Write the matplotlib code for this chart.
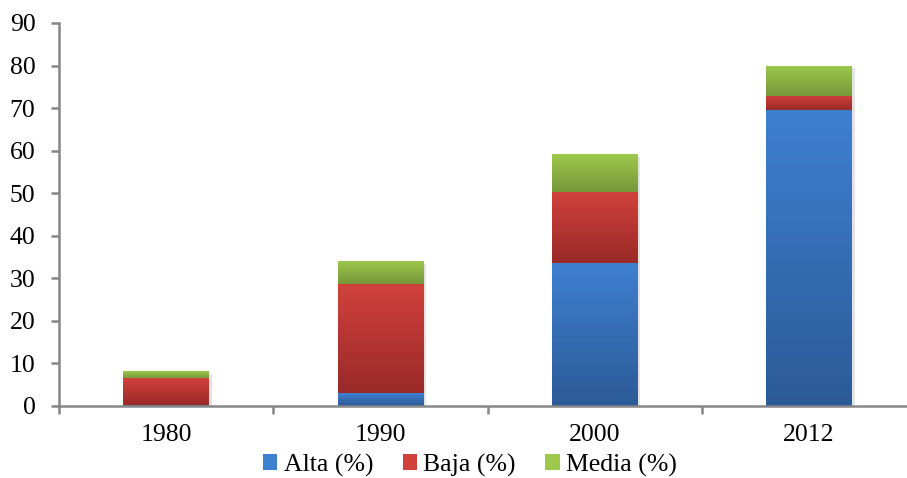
import numpy as np
import matplotlib
matplotlib.use("Agg")
import matplotlib.pyplot as plt
from matplotlib.colors import LinearSegmentedColormap
from matplotlib.patches import Patch
import matplotlib.patheffects as pe

years = ["1980", "1990", "2000", "2012"]
alta = [0.3, 3.0, 33.6, 69.5]
baja = [6.3, 25.6, 16.8, 3.3]
media = [1.6, 5.5, 8.8, 7.2]
series_names = ["Alta (%)", "Baja (%)", "Media (%)"]
# (top colour, bottom colour) for the gradient fill
grads = [("#3E80D0", "#2C5A97"), ("#D1413C", "#9A2A28"), ("#9DC84C", "#76983A")]

plt.rcParams["font.family"] = ["Liberation Serif", "DejaVu Serif"]

fig = plt.figure(figsize=(9.07, 4.78), dpi=100)
ax = fig.add_axes([59 / 907, 72 / 478, 857 / 907, 383 / 478])

x = np.arange(len(years))
bottom = np.zeros(len(years))
grad_img = np.linspace(0, 1, 256).reshape(-1, 1)
for vals, name, (ctop, cbot) in zip([alta, baja, media], series_names, grads):
    bars = ax.bar(x, vals, 0.4, bottom=bottom, color=cbot, linewidth=0, label=name,
                  path_effects=[pe.SimplePatchShadow(offset=(2, -2), alpha=0.12), pe.Normal()])
    cmap = LinearSegmentedColormap.from_list(name, [cbot, ctop])
    for b in bars:
        x0, y0 = b.get_x(), b.get_y()
        w, h = b.get_width(), b.get_height()
        im = ax.imshow(grad_img, cmap=cmap, origin="lower", aspect="auto",
                       extent=(x0, x0 + w, y0, y0 + h), zorder=b.get_zorder() + 0.1)
        im.set_clip_path(b)
    bottom += np.array(vals)

ax.set_xlim(-0.5, 3.5)
ax.set_ylim(0, 90)
ax.set_yticks(np.arange(0, 91, 10))
ax.set_xticks(x)
ax.set_xticklabels(years)
ax.set_xticks(np.arange(-0.5, 4, 1), minor=True)

for s in ["top", "right"]:
    ax.spines[s].set_visible(False)
for s in ["left", "bottom"]:
    ax.spines[s].set_color("#868686")
    ax.spines[s].set_linewidth(1.8)
ax.spines["bottom"].set_zorder(5)

ax.tick_params(axis="x", which="major", length=0, pad=13, labelsize=18.5)
ax.tick_params(axis="x", which="minor", length=6, width=1.8, color="#868686", direction="out")
ax.tick_params(axis="y", length=6, width=1.8, color="#868686", pad=11, labelsize=18.5)

handles = [Patch(facecolor=c[0], edgecolor="none") for c in grads]
fig.legend(handles, series_names, loc="center", bbox_to_anchor=(470 / 907, 1 - 465 / 478),
           ncol=3, frameon=False, fontsize=18.5, handlelength=0.55, handleheight=0.55,
           handletextpad=0.25, columnspacing=1.15)

fig.savefig("out.png", dpi=100)
